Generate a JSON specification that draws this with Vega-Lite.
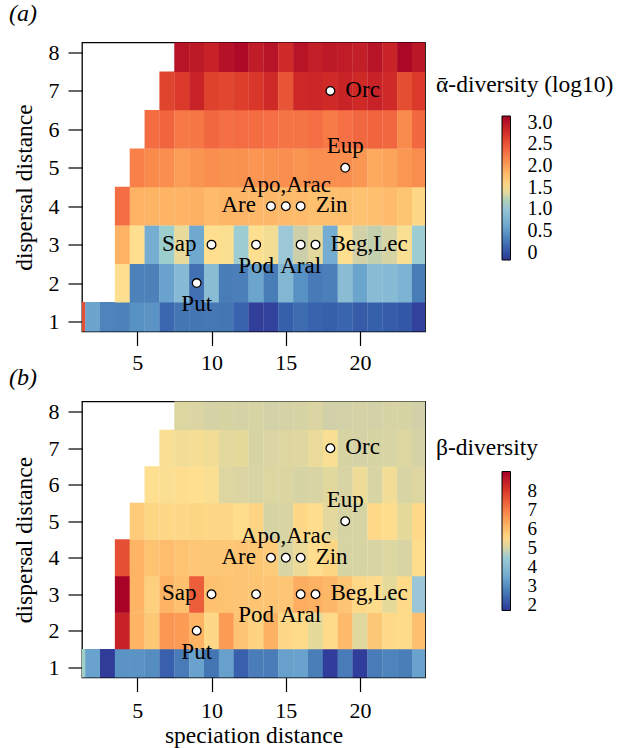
{
  "$schema": "https://vega.github.io/schema/vega-lite/v6.json",
  "background": "white",
  "padding": {"left": 8, "top": 1.5, "right": 5, "bottom": 2},
  "config": {
    "view": {"stroke": "black", "strokeWidth": 1.3},
    "axis": {"domain": false, "grid": false, "ticks": true, "tickColor": "black", "tickSize": 14, "tickWidth": 1.2, "labelOverlap": false,
      "labelFont": "Liberation Serif", "labelFontSize": 22, "labelColor": "black",
      "titleFont": "Liberation Serif", "titleFontSize": 23.5, "titleFontWeight": "normal", "titleColor": "black"},
    "title": {"font": "Liberation Serif", "fontStyle": "italic", "fontSize": 24, "fontWeight": "normal", "color": "black", "anchor": "start", "frame": "group", "baseline": "alphabetic"}
  },
  "datasets": {
    "cells": [
      {"s":1,"d":1,"alpha":2.55,"beta":4.6},{"s":2,"d":1,"alpha":0.60,"beta":3.35},{"s":3,"d":1,"alpha":0.35,"beta":1.78},{"s":4,"d":1,"alpha":0.33,"beta":3.1},{"s":5,"d":1,"alpha":0.45,"beta":3.1},{"s":6,"d":1,"alpha":0.47,"beta":3.0},{"s":7,"d":1,"alpha":0.15,"beta":2.3},{"s":8,"d":1,"alpha":0.25,"beta":2.7},{"s":9,"d":1,"alpha":0.25,"beta":3.35},{"s":10,"d":1,"alpha":0.27,"beta":2.62},{"s":11,"d":1,"alpha":0.25,"beta":3.33},{"s":12,"d":1,"alpha":0.12,"beta":2.3},{"s":13,"d":1,"alpha":-0.12,"beta":2.72},{"s":14,"d":1,"alpha":-0.10,"beta":2.72},{"s":15,"d":1,"alpha":0.10,"beta":3.33},{"s":16,"d":1,"alpha":0.18,"beta":3.35},{"s":17,"d":1,"alpha":0.12,"beta":2.75},{"s":18,"d":1,"alpha":0.10,"beta":1.8},{"s":19,"d":1,"alpha":0.14,"beta":2.7},{"s":20,"d":1,"alpha":0.07,"beta":1.8},{"s":21,"d":1,"alpha":0.10,"beta":2.7},{"s":22,"d":1,"alpha":0.08,"beta":2.85},{"s":23,"d":1,"alpha":0.05,"beta":2.75},{"s":24,"d":1,"alpha":-0.10,"beta":3.35},
      {"s":4,"d":2,"alpha":1.50,"beta":8.4},{"s":5,"d":2,"alpha":0.33,"beta":6.15},{"s":6,"d":2,"alpha":0.33,"beta":5.8},{"s":7,"d":2,"alpha":0.58,"beta":6.6},{"s":8,"d":2,"alpha":0.85,"beta":6.55},{"s":9,"d":2,"alpha":0.22,"beta":6.15},{"s":10,"d":2,"alpha":0.88,"beta":5.5},{"s":11,"d":2,"alpha":0.30,"beta":6.55},{"s":12,"d":2,"alpha":0.32,"beta":5.85},{"s":13,"d":2,"alpha":0.60,"beta":5.6},{"s":14,"d":2,"alpha":0.30,"beta":6.2},{"s":15,"d":2,"alpha":0.80,"beta":5.5},{"s":16,"d":2,"alpha":0.45,"beta":5.45},{"s":17,"d":2,"alpha":0.28,"beta":5.15},{"s":18,"d":2,"alpha":0.32,"beta":5.45},{"s":19,"d":2,"alpha":0.88,"beta":6.05},{"s":20,"d":2,"alpha":0.60,"beta":5.1},{"s":21,"d":2,"alpha":0.87,"beta":5.8},{"s":22,"d":2,"alpha":0.85,"beta":5.48},{"s":23,"d":2,"alpha":0.75,"beta":5.45},{"s":24,"d":2,"alpha":0.30,"beta":5.95},
      {"s":4,"d":3,"alpha":1.87,"beta":8.95},{"s":5,"d":3,"alpha":1.50,"beta":6.15},{"s":6,"d":3,"alpha":0.68,"beta":5.65},{"s":7,"d":3,"alpha":1.12,"beta":6.15},{"s":8,"d":3,"alpha":1.40,"beta":5.95},{"s":9,"d":3,"alpha":0.63,"beta":7.45},{"s":10,"d":3,"alpha":1.50,"beta":5.92},{"s":11,"d":3,"alpha":1.48,"beta":5.9},{"s":12,"d":3,"alpha":1.10,"beta":5.85},{"s":13,"d":3,"alpha":1.50,"beta":5.85},{"s":14,"d":3,"alpha":1.45,"beta":5.86},{"s":15,"d":3,"alpha":1.05,"beta":5.83},{"s":16,"d":3,"alpha":1.27,"beta":6.28},{"s":17,"d":3,"alpha":1.38,"beta":6.2},{"s":18,"d":3,"alpha":0.66,"beta":6.1},{"s":19,"d":3,"alpha":1.50,"beta":5.85},{"s":20,"d":3,"alpha":1.30,"beta":5.5},{"s":21,"d":3,"alpha":1.25,"beta":5.42},{"s":22,"d":3,"alpha":1.32,"beta":5.15},{"s":23,"d":3,"alpha":1.47,"beta":5.47},{"s":24,"d":3,"alpha":1.10,"beta":4.35},
      {"s":4,"d":4,"alpha":2.32,"beta":7.65},{"s":5,"d":4,"alpha":1.87,"beta":6.15},{"s":6,"d":4,"alpha":1.86,"beta":5.9},{"s":7,"d":4,"alpha":1.86,"beta":6.0},{"s":8,"d":4,"alpha":1.86,"beta":5.9},{"s":9,"d":4,"alpha":1.88,"beta":5.82},{"s":10,"d":4,"alpha":1.80,"beta":5.8},{"s":11,"d":4,"alpha":1.85,"beta":5.82},{"s":12,"d":4,"alpha":1.84,"beta":5.85},{"s":13,"d":4,"alpha":1.82,"beta":5.83},{"s":14,"d":4,"alpha":1.82,"beta":5.75},{"s":15,"d":4,"alpha":1.81,"beta":5.02},{"s":16,"d":4,"alpha":1.80,"beta":5.2},{"s":17,"d":4,"alpha":1.76,"beta":5.38},{"s":18,"d":4,"alpha":1.76,"beta":5.55},{"s":19,"d":4,"alpha":1.77,"beta":5.0},{"s":20,"d":4,"alpha":1.74,"beta":5.0},{"s":21,"d":4,"alpha":1.76,"beta":5.02},{"s":22,"d":4,"alpha":1.80,"beta":5.05},{"s":23,"d":4,"alpha":1.73,"beta":5.02},{"s":24,"d":4,"alpha":1.56,"beta":5.4},
      {"s":5,"d":5,"alpha":2.20,"beta":5.75},{"s":6,"d":5,"alpha":2.13,"beta":5.55},{"s":7,"d":5,"alpha":2.12,"beta":5.5},{"s":8,"d":5,"alpha":2.02,"beta":5.5},{"s":9,"d":5,"alpha":2.08,"beta":5.55},{"s":10,"d":5,"alpha":2.12,"beta":5.5},{"s":11,"d":5,"alpha":2.10,"beta":5.52},{"s":12,"d":5,"alpha":2.10,"beta":5.4},{"s":13,"d":5,"alpha":2.07,"beta":5.58},{"s":14,"d":5,"alpha":2.10,"beta":4.98},{"s":15,"d":5,"alpha":2.12,"beta":5.02},{"s":16,"d":5,"alpha":2.08,"beta":5.5},{"s":17,"d":5,"alpha":2.12,"beta":5.38},{"s":18,"d":5,"alpha":2.12,"beta":5.12},{"s":19,"d":5,"alpha":2.12,"beta":4.98},{"s":20,"d":5,"alpha":2.06,"beta":5.0},{"s":21,"d":5,"alpha":1.93,"beta":5.48},{"s":22,"d":5,"alpha":1.97,"beta":5.4},{"s":23,"d":5,"alpha":2.06,"beta":5.15},{"s":24,"d":5,"alpha":2.12,"beta":5.48},
      {"s":6,"d":6,"alpha":2.33,"beta":5.35},{"s":7,"d":6,"alpha":2.38,"beta":5.32},{"s":8,"d":6,"alpha":2.25,"beta":5.38},{"s":9,"d":6,"alpha":2.26,"beta":5.35},{"s":10,"d":6,"alpha":2.36,"beta":5.32},{"s":11,"d":6,"alpha":2.31,"beta":5.06},{"s":12,"d":6,"alpha":2.33,"beta":5.03},{"s":13,"d":6,"alpha":2.33,"beta":5.02},{"s":14,"d":6,"alpha":2.31,"beta":5.05},{"s":15,"d":6,"alpha":2.28,"beta":5.04},{"s":16,"d":6,"alpha":2.28,"beta":4.98},{"s":17,"d":6,"alpha":2.31,"beta":5.02},{"s":18,"d":6,"alpha":2.24,"beta":5.1},{"s":19,"d":6,"alpha":2.30,"beta":5.01},{"s":20,"d":6,"alpha":2.36,"beta":5.22},{"s":21,"d":6,"alpha":2.38,"beta":5.02},{"s":22,"d":6,"alpha":2.36,"beta":5.25},{"s":23,"d":6,"alpha":2.13,"beta":5.02},{"s":24,"d":6,"alpha":2.35,"beta":5.06},
      {"s":7,"d":7,"alpha":2.62,"beta":5.3},{"s":8,"d":7,"alpha":2.68,"beta":5.25},{"s":9,"d":7,"alpha":2.86,"beta":5.28},{"s":10,"d":7,"alpha":2.63,"beta":5.25},{"s":11,"d":7,"alpha":2.60,"beta":5.12},{"s":12,"d":7,"alpha":2.65,"beta":5.15},{"s":13,"d":7,"alpha":2.70,"beta":5.0},{"s":14,"d":7,"alpha":2.80,"beta":5.03},{"s":15,"d":7,"alpha":2.50,"beta":5.06},{"s":16,"d":7,"alpha":2.82,"beta":5.08},{"s":17,"d":7,"alpha":2.83,"beta":5.18},{"s":18,"d":7,"alpha":2.80,"beta":5.3},{"s":19,"d":7,"alpha":2.86,"beta":5.0},{"s":20,"d":7,"alpha":2.81,"beta":4.97},{"s":21,"d":7,"alpha":2.88,"beta":5.0},{"s":22,"d":7,"alpha":2.80,"beta":5.02},{"s":23,"d":7,"alpha":2.55,"beta":5.06},{"s":24,"d":7,"alpha":2.68,"beta":4.97},
      {"s":8,"d":8,"alpha":3.00,"beta":5.05},{"s":9,"d":8,"alpha":2.95,"beta":5.03},{"s":10,"d":8,"alpha":2.88,"beta":4.97},{"s":11,"d":8,"alpha":3.02,"beta":5.0},{"s":12,"d":8,"alpha":3.08,"beta":4.97},{"s":13,"d":8,"alpha":2.92,"beta":5.0},{"s":14,"d":8,"alpha":3.00,"beta":4.95},{"s":15,"d":8,"alpha":2.80,"beta":4.97},{"s":16,"d":8,"alpha":3.00,"beta":4.98},{"s":17,"d":8,"alpha":2.90,"beta":5.03},{"s":18,"d":8,"alpha":2.95,"beta":4.93},{"s":19,"d":8,"alpha":2.93,"beta":4.94},{"s":20,"d":8,"alpha":2.90,"beta":4.97},{"s":21,"d":8,"alpha":3.00,"beta":4.95},{"s":22,"d":8,"alpha":2.86,"beta":4.98},{"s":23,"d":8,"alpha":3.10,"beta":5.0},{"s":24,"d":8,"alpha":2.97,"beta":4.93}
    ],
    "sites": [
      {"label":"Orc","s":18,"d":7,"pos":"right"},
      {"label":"Eup","s":19,"d":5,"pos":"above"},
      {"label":"Are","s":14,"d":4,"pos":"left"},
      {"label":"Apo,Arac","s":15,"d":4,"pos":"above"},
      {"label":"Zin","s":16,"d":4,"pos":"right"},
      {"label":"Sap","s":10,"d":3,"pos":"left"},
      {"label":"Pod","s":13,"d":3,"pos":"below"},
      {"label":"Aral","s":16,"d":3,"pos":"below"},
      {"label":"Beg,Lec","s":17,"d":3,"pos":"right"},
      {"label":"Put","s":9,"d":2,"pos":"below"}
    ]
  },
  "spacing": 70,
  "bounds": "flush",
  "resolve": {"scale": {"color": "independent"}},
  "vconcat": [
    {
      "width": 343,
      "height": 289,
      "title": {"text": "(a)", "dx": -73, "offset": 15},
      "encoding": {
        "x": {"field": "s", "type": "quantitative", "scale": {"domain": [1.28, 24.37], "nice": false, "zero": false},
          "axis": {"values": [5, 10, 15, 20], "title": null, "labelPadding": 7, "labelOverlap": false}},
        "y": {"field": "d", "type": "quantitative", "scale": {"domain": [0.74, 8.26], "nice": false, "zero": false},
          "axis": {"values": [1, 2, 3, 4, 5, 6, 7, 8], "title": "dispersal distance", "labelPadding": 9, "titlePadding": 12, "labelOverlap": false}}
      },
      "layer": [
        {
          "data": {"name": "cells"},
          "mark": {"type": "rect", "clip": true, "xOffset": -7.55, "x2Offset": 7.55, "yOffset": 19.4, "y2Offset": -19.4},
          "encoding": {
            "x2": {"field": "s"},
            "y2": {"field": "d"},
            "color": {"field": "alpha", "type": "quantitative",
              "scale": {"domain": [-0.17, 0.245, 0.66, 1.075, 1.28, 1.49, 1.905, 2.32, 2.735, 3.15],
                        "range": ["#313695", "#4575b4", "#74add1", "#9fc9d8", "#cfcfaa", "#fee090", "#fdae61", "#f46d43", "#d73027", "#a50026"]},
              "legend": {"title": "ᾱ-diversity (log10)", "orient": "none", "legendX": 354, "legendY": 30, "direction": "vertical",
                "padding": 0, "gradientLength": 144, "gradientThickness": 8.5, "gradientStrokeColor": "black", "gradientStrokeWidth": 1,
                "titleFont": "Liberation Serif", "titleFontSize": 23.5, "titleFontWeight": "normal", "titleColor": "black", "titlePadding": 20,
                "labelFont": "Liberation Serif", "labelFontSize": 20, "labelColor": "black", "labelOffset": 17, "labelOverlap": false,
                "values": [0, 0.5, 1, 1.5, 2, 2.5, 3],
                "labelExpr": "datum.value == 0 ? '0' : format(datum.value, '.1f')",
                "encode": {"title": {"update": {"dx": {"value": -66}}}}}}
          }
        },
        {
          "data": {"name": "sites"},
          "transform": [{"filter": "datum.pos == 'right'"}],
          "mark": {"type": "text", "align": "left", "baseline": "alphabetic", "dx": 15, "dy": 6, "font": "Liberation Serif", "fontSize": 23, "color": "black"},
          "encoding": {"text": {"field": "label"}}
        },
        {
          "data": {"name": "sites"},
          "transform": [{"filter": "datum.pos == 'left'"}],
          "mark": {"type": "text", "align": "right", "baseline": "alphabetic", "dx": -15, "dy": 6, "font": "Liberation Serif", "fontSize": 23, "color": "black"},
          "encoding": {"text": {"field": "label"}}
        },
        {
          "data": {"name": "sites"},
          "transform": [{"filter": "datum.pos == 'above'"}],
          "mark": {"type": "text", "align": "center", "baseline": "alphabetic", "dy": -14.5, "font": "Liberation Serif", "fontSize": 23, "color": "black"},
          "encoding": {"text": {"field": "label"}}
        },
        {
          "data": {"name": "sites"},
          "transform": [{"filter": "datum.pos == 'below'"}],
          "mark": {"type": "text", "align": "center", "baseline": "alphabetic", "dy": 28, "font": "Liberation Serif", "fontSize": 23, "color": "black"},
          "encoding": {"text": {"field": "label"}}
        },
        {
          "data": {"name": "sites"},
          "mark": {"type": "point", "shape": "circle", "filled": true, "fill": "white", "stroke": "black", "strokeWidth": 1.3, "size": 75, "opacity": 1},
          "encoding": {}
        }
      ]
    },
    {
      "width": 343,
      "height": 276,
      "title": {"text": "(b)", "dx": -73, "offset": 11},
      "encoding": {
        "x": {"field": "s", "type": "quantitative", "scale": {"domain": [1.28, 24.37], "nice": false, "zero": false},
          "axis": {"values": [5, 10, 15, 20], "title": "speciation distance", "labelPadding": 9, "titlePadding": 2, "labelOverlap": false}},
        "y": {"field": "d", "type": "quantitative", "scale": {"domain": [0.72, 8.28], "nice": false, "zero": false},
          "axis": {"values": [1, 2, 3, 4, 5, 6, 7, 8], "title": "dispersal distance", "labelPadding": 9, "titlePadding": 12, "labelOverlap": false}}
      },
      "layer": [
        {
          "data": {"name": "cells"},
          "mark": {"type": "rect", "clip": true, "xOffset": -7.55, "x2Offset": 7.55, "yOffset": 18.4, "y2Offset": -18.4},
          "encoding": {
            "x2": {"field": "s"},
            "y2": {"field": "d"},
            "color": {"field": "beta", "type": "quantitative",
              "scale": {"domain": [1.7, 2.61, 3.53, 4.44, 4.9, 5.35, 6.26, 7.18, 8.09, 9.0],
                        "range": ["#313695", "#4575b4", "#74add1", "#9fc9d8", "#cfcfaa", "#fee090", "#fdae61", "#f46d43", "#d73027", "#a50026"]},
              "legend": {"title": "β-diversity", "orient": "none", "legendX": 354, "legendY": 34, "direction": "vertical",
                "padding": 0, "gradientLength": 139, "gradientThickness": 8.5, "gradientStrokeColor": "black", "gradientStrokeWidth": 1,
                "titleFont": "Liberation Serif", "titleFontSize": 23.5, "titleFontWeight": "normal", "titleColor": "black", "titlePadding": 12.5,
                "labelFont": "Liberation Serif", "labelFontSize": 19, "labelColor": "black", "labelOffset": 17, "labelOverlap": false,
                "values": [2, 3, 4, 5, 6, 7, 8],
                "encode": {"title": {"update": {"dx": {"value": -66}}}}}}
          }
        },
        {
          "data": {"name": "sites"},
          "transform": [{"filter": "datum.pos == 'right'"}],
          "mark": {"type": "text", "align": "left", "baseline": "alphabetic", "dx": 15, "dy": 6, "font": "Liberation Serif", "fontSize": 23, "color": "black"},
          "encoding": {"text": {"field": "label"}}
        },
        {
          "data": {"name": "sites"},
          "transform": [{"filter": "datum.pos == 'left'"}],
          "mark": {"type": "text", "align": "right", "baseline": "alphabetic", "dx": -15, "dy": 6, "font": "Liberation Serif", "fontSize": 23, "color": "black"},
          "encoding": {"text": {"field": "label"}}
        },
        {
          "data": {"name": "sites"},
          "transform": [{"filter": "datum.pos == 'above'"}],
          "mark": {"type": "text", "align": "center", "baseline": "alphabetic", "dy": -14.5, "font": "Liberation Serif", "fontSize": 23, "color": "black"},
          "encoding": {"text": {"field": "label"}}
        },
        {
          "data": {"name": "sites"},
          "transform": [{"filter": "datum.pos == 'below'"}],
          "mark": {"type": "text", "align": "center", "baseline": "alphabetic", "dy": 28, "font": "Liberation Serif", "fontSize": 23, "color": "black"},
          "encoding": {"text": {"field": "label"}}
        },
        {
          "data": {"name": "sites"},
          "mark": {"type": "point", "shape": "circle", "filled": true, "fill": "white", "stroke": "black", "strokeWidth": 1.3, "size": 75, "opacity": 1},
          "encoding": {}
        }
      ]
    }
  ]
}
